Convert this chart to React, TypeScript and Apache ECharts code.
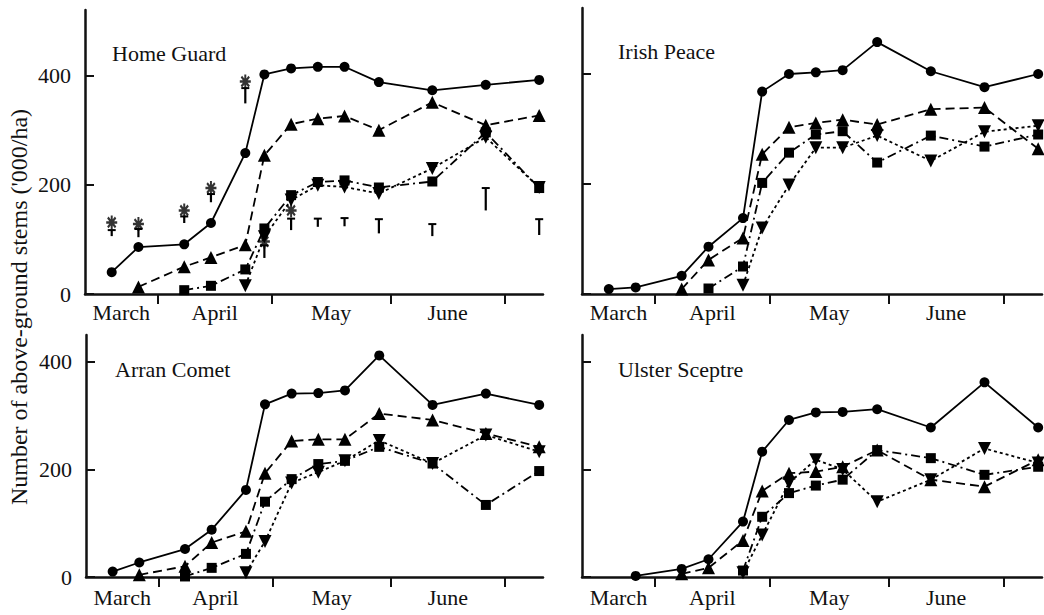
import React, { useEffect, useRef } from "react";
import * as echarts from "echarts";

// Sampling dates, as days counted from 1 March (1 March = 0)
const sampleDays = [19, 26, 38, 45, 54, 59, 66, 73, 80, 89, 103, 117, 131];

// Month boundaries (ticks) and month label positions
const monthTickDays = [31, 61, 92, 122];
const monthLabelDays = [21.5, 46, 76.5, 107];
const monthNames = ["March", "April", "May", "June"];
const yTickValues = [0, 200, 400];

const panelNames = ["Home Guard", "Irish Peace", "Arran Comet", "Ulster Sceptre"];
const yAxisTitle = "Number of above-ground stems ('000/ha)";

// Home Guard
const hgCircle = [40, 86, 91, 130, 258, 402, 413, 416, 416, 388, 373, 383, 392];
const hgTriangle = [null, 13, 50, 67, 90, 254, 311, 321, 326, 300, 351, 309, 327];
const hgSquare = [null, null, 7, 15, 45, 120, 181, 205, 208, 195, 206, 296, 194];
const hgDown = [null, null, null, null, 15, 105, 172, 199, 196, 184, 230, 287, 195];
const hgAsterisk = [131, 128, 153, 194, 389, 96, 153, null, null, null, null, null, null];
const hgErrTop = [117, 119, 142, 183, 377, 89, 138, 138, 139, 137, 128, 194, 137];
const hgErrBottom = [106, 104, 130, 168, 349, 66, 117, 123, 124, 111, 106, 153, 108];

// Irish Peace
const ipCircle = [9, 12, 33, 86, 138, 368, 400, 403, 407, 458, 405, 376, 400];
const ipTriangle = [null, null, 9, 62, 102, 254, 303, 311, 317, 308, 336, 339, 264];
const ipSquare = [null, null, null, 10, 50, 202, 257, 290, 296, 239, 288, 268, 290];
const ipDown = [null, null, null, null, 16, 120, 198, 266, 266, 288, 242, 295, 306];

// Arran Comet
const acCircle = [10, 27, 52, 88, 162, 321, 341, 342, 347, 412, 320, 341, 320];
const acTriangle = [null, 4, 20, 64, 85, 193, 253, 256, 256, 304, 292, 267, 242];
const acSquare = [null, null, 1, 17, 43, 140, 182, 210, 216, 242, 211, 134, 197];
const acDown = [null, null, null, null, 8, 66, 175, 195, 216, 254, 211, 264, 233];

// Ulster Sceptre
const usCircle = [null, 2, 15, 33, 103, 233, 292, 306, 307, 312, 278, 362, 278];
const usTriangle = [null, null, 6, 17, 68, 160, 193, 196, 205, 236, 181, 168, 218];
const usSquare = [null, null, null, null, 12, 112, 156, 170, 181, 236, 221, 190, 205];
const usDown = [null, null, null, null, 8, 78, 175, 218, 200, 140, 181, 239, 212];

const panelSeries = [
  [hgCircle, hgTriangle, hgSquare, hgDown],
  [ipCircle, ipTriangle, ipSquare, ipDown],
  [acCircle, acTriangle, acSquare, acDown],
  [usCircle, usTriangle, usSquare, usDown],
];

const FONT = '"Liberation Serif", "Times New Roman", serif';
const INK = "#111";

const ASTERISK =
  "path://M-0.9,-5 L0.9,-5 L0.9,5 L-0.9,5 Z " +
  "M-5,-0.9 L5,-0.9 L5,0.9 L-5,0.9 Z " +
  "M2.9,-4.17 L4.17,-2.9 L-2.9,4.17 L-4.17,2.9 Z " +
  "M4.17,2.9 L2.9,4.17 L-4.17,-2.9 L-2.9,-4.17 Z";

function pairs(vals: (number | null)[]) {
  const out: number[][] = [];
  sampleDays.forEach((d, i) => {
    const v = vals[i];
    if (v !== null && v !== undefined) out.push([d, v]);
  });
  return out;
}

const grids = [
  { left: 85, top: 10, width: 458, height: 284 },
  { left: 582, top: 8, width: 460, height: 286 },
  { left: 86, top: 335, width: 457, height: 242 },
  { left: 582, top: 335, width: 460, height: 242 },
];
const yMax = [520, 520, 450, 450];
const labelMargin = [7, 7, 9, 9];
const titlePos = [
  [112, 54],
  [618, 52],
  [115, 370],
  [618, 370],
];

const lineKinds = [
  { symbol: "circle", size: 10, rotate: 0, dash: "solid" as any },
  { symbol: "triangle", size: 13, rotate: 0, dash: [9, 5] },
  { symbol: "rect", size: 10, rotate: 0, dash: [9, 4, 2, 4] },
  { symbol: "triangle", size: 13, rotate: 180, dash: [3, 3] },
];

function buildOption() {
  const xAxis: any[] = [];
  const yAxis: any[] = [];
  const series: any[] = [];
  const graphic: any[] = [];

  grids.forEach((g, i) => {
    xAxis.push({
      type: "value",
      gridIndex: i,
      min: 12,
      max: 132,
      axisLine: { show: true, lineStyle: { color: INK, width: 2.5 } },
      axisTick: {
        show: true,
        customValues: monthTickDays,
        length: 10,
        inside: false,
        lineStyle: { color: INK, width: 2 },
      },
      axisLabel: {
        show: true,
        customValues: monthLabelDays,
        formatter: (v: number) => {
          const k = monthLabelDays.indexOf(v);
          return k >= 0 ? monthNames[k] : "";
        },
        fontSize: 22,
        fontFamily: FONT,
        color: INK,
        margin: labelMargin[i],
      },
      splitLine: { show: false },
    });
    const leftPanel = i % 2 === 0;
    yAxis.push({
      type: "value",
      gridIndex: i,
      min: 0,
      max: yMax[i],
      axisLine: { show: true, lineStyle: { color: INK, width: 2.5 } },
      axisTick: {
        show: true,
        customValues: yTickValues,
        inside: true,
        length: 9,
        lineStyle: { color: INK, width: 2 },
      },
      axisLabel: {
        show: leftPanel,
        customValues: yTickValues,
        fontSize: 22,
        fontFamily: FONT,
        color: INK,
        margin: 14,
      },
      splitLine: { show: false },
    });

    panelSeries[i].forEach((vals, k) => {
      const kind = lineKinds[k];
      series.push({
        type: "line",
        xAxisIndex: i,
        yAxisIndex: i,
        data: pairs(vals),
        symbol: kind.symbol,
        symbolSize: kind.size,
        symbolRotate: kind.rotate,
        showSymbol: true,
        lineStyle: { color: "#000", width: 1.8, type: kind.dash },
        itemStyle: { color: "#000" },
        z: 3 + k,
        silent: true,
      });
    });

    graphic.push({
      type: "text",
      left: titlePos[i][0],
      top: titlePos[i][1] - 12,
      style: {
        text: panelNames[i],
        fontSize: 22,
        fontFamily: FONT,
        fill: INK,
      },
    });
  });

  // Error bars (Home Guard)
  series.push({
    type: "custom",
    xAxisIndex: 0,
    yAxisIndex: 0,
    silent: true,
    data: sampleDays.map((d, i) => [d, hgErrTop[i], hgErrBottom[i]]),
    encode: { x: 0, y: [1, 2] },
    renderItem: (params: any, api: any) => {
      const x = api.value(0);
      const top = api.coord([x, api.value(1)]);
      const bot = api.coord([x, api.value(2)]);
      return {
        type: "group",
        children: [
          {
            type: "line",
            shape: { x1: top[0], y1: top[1], x2: bot[0], y2: bot[1] },
            style: { stroke: "#000", lineWidth: 2.2 },
          },
          {
            type: "line",
            shape: { x1: top[0] - 4, y1: top[1], x2: top[0] + 4, y2: top[1] },
            style: { stroke: "#000", lineWidth: 2 },
          },
        ],
      };
    },
    z: 2,
  });

  // Significance asterisks (Home Guard)
  series.push({
    type: "scatter",
    xAxisIndex: 0,
    yAxisIndex: 0,
    silent: true,
    data: pairs(hgAsterisk),
    symbol: ASTERISK,
    symbolSize: [11, 14],
    itemStyle: { color: "#000" },
    z: 8,
  });

  graphic.push({
    type: "text",
    x: 19,
    y: 307,
    rotation: Math.PI / 2,
    style: {
      text: yAxisTitle,
      fontSize: 24,
      fontFamily: FONT,
      fill: INK,
      align: "center",
      verticalAlign: "middle",
    },
  });

  return {
    animation: false,
    backgroundColor: "#fff",
    grid: grids.map((g) => ({ ...g, containLabel: false })),
    xAxis,
    yAxis,
    series,
    graphic,
  };
}

export default function App() {
  const ref = useRef<HTMLDivElement>(null);
  useEffect(() => {
    if (!ref.current) return;
    const chart = echarts.init(ref.current, undefined, { renderer: "svg" });
    chart.setOption(buildOption() as any);
    return () => chart.dispose();
  }, []);
  return (
    <div
      ref={ref}
      style={{ position: "fixed", left: 0, top: 0, width: 1044, height: 615, background: "#fff" }}
    />
  );
}
